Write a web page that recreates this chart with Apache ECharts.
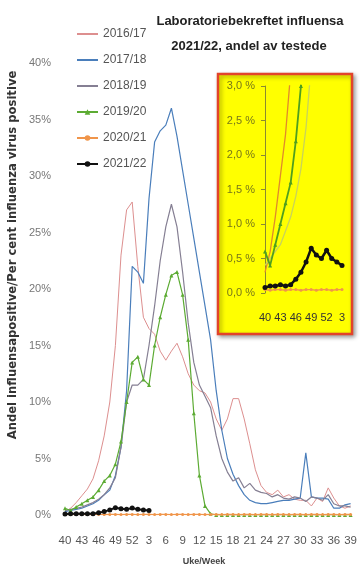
<!DOCTYPE html>
<html>
<head>
<meta charset="utf-8">
<script src="https://cdn.jsdelivr.net/npm/echarts@6/dist/echarts.min.js"></script>
<style>
html,body{margin:0;padding:0;background:#fff;}
#c{width:360px;height:570px;}
</style>
</head>
<body>
<div id="c"></div>
<script>
// Weeks 40..52, 1..39
var weeks = ['40','41','42','43','44','45','46','47','48','49','50','51','52',
  '1','2','3','4','5','6','7','8','9','10','11','12','13','14','15','16','17','18','19','20',
  '21','22','23','24','25','26','27','28','29','30','31','32','33','34','35','36','37','38','39'];
var seasonNames = ['2016/17','2017/18','2018/19','2019/20','2020/21','2021/22'];
var s1617 = [0.3,0.6,1.1,1.7,2.3,3.2,4.8,7.0,10.0,15.0,23.0,27.0,27.7,
  22.0,17.5,16.5,16.0,14.5,13.7,14.5,15.2,14.0,12.5,11.5,11.0,10.8,10.0,8.5,7.5,8.5,10.3,10.3,8.5,
  6.3,4.0,2.6,2.0,1.8,2.2,1.6,1.8,1.4,1.3,1.3,0.8,1.5,1.2,2.4,1.5,0.8,0.6,0.8];
var s1718 = [0.3,0.4,0.5,0.6,0.8,1.0,1.3,1.8,2.2,3.5,6.0,11.0,22.0,
  21.5,20.5,28.0,33.0,34.0,34.5,36.0,33.5,30.5,27.5,24.5,21.5,18.5,15.5,11.0,7.5,5.0,3.6,2.6,1.8,
  1.3,1.1,1.0,1.0,1.1,1.2,1.3,1.3,1.4,1.5,5.5,1.6,1.5,1.5,1.4,0.6,0.6,0.9,1.0];
var s1819 = [0.4,0.5,0.6,0.7,0.9,1.1,1.4,1.8,2.4,3.3,6.0,10.0,11.5,
  11.5,12.0,15.0,18.5,22.5,25.5,27.5,25.5,21.5,17.0,13.5,11.5,10.5,9.5,7.0,5.0,3.8,3.0,3.3,2.4,
  2.8,2.2,2.0,1.9,1.6,1.8,1.5,1.4,1.6,1.5,1.2,1.6,1.5,1.3,1.8,1.0,0.8,0.8,0.7];
var s1920 = [0.6,0.4,0.7,1.0,1.3,1.6,2.2,3.0,3.5,4.5,6.5,10.0,13.5,
  14.0,12.0,11.5,15.0,17.5,19.5,21.2,21.5,19.5,15.5,9.0,3.5,0.8,0.1,0.0,0.0,0.0,0.0,0.0,0.0,
  0.0,0.0,0.0,0.0,0.0,0.0,0.0,0.0,0.0,0.0,0.0,0.0,0.0,0.0,0.0,0.0,0.0,0.0,0.0];
var s2021 = [0.05,0.04,0.05,0.05,0.04,0.05,0.05,0.04,0.05,0.05,0.04,0.05,0.05,
  0.04,0.05,0.05,0.04,0.05,0.05,0.04,0.05,0.05,0.04,0.05,0.05,0.04,0.05,0.05,0.04,0.05,0.05,0.04,0.05,
  0.05,0.04,0.05,0.05,0.04,0.05,0.05,0.04,0.05,0.05,0.04,0.05,0.05,0.04,0.05,0.05,0.04,0.05,0.05];
var s2122 = [0.08,0.1,0.1,0.12,0.1,0.12,0.2,0.3,0.45,0.65,0.55,0.5,0.62,
  0.5,0.45,0.4];
var insetCount = 16; // weeks 40..3 in the inset
var mainTicks = ['0%','5%','10%','15%','20%','25%','30%','35%','40%'];
var insetTicks = ['0,0 %','0,5 %','1,0 %','1,5 %','2,0 %','2,5 %','3,0 %'];

var colors = ['#dd8f8f','#4a7ebb','#857f93','#5cab33','#f0954a','#111111'];
var insetColors = ['#e08a2c', null, '#c9d35a', '#4f9f1f', '#f0954a', '#111111'];
var seriesData = [s1617,s1718,s1819,s1920,s2021,s2122];
var symbols = ['none','none','none','triangle','circle','circle'];
var symSizes = [0,0,0,4,3,5];
var widths = [1,1.2,1.2,1.2,1.2,2];

var series = [];
seriesData.forEach(function(d,k){
  series.push({
    name: seasonNames[k], type:'line', xAxisIndex:0, yAxisIndex:0,
    data: d, symbol: symbols[k], symbolSize: symSizes[k], showSymbol: symbols[k]!=='none',
    showAllSymbol: true,
    lineStyle:{color:colors[k], width:widths[k]}, itemStyle:{color:colors[k]},
    z: 2 + k, animation:false, silent:true
  });
});
seriesData.forEach(function(d,k){
  if (!insetColors[k]) return;
  series.push({
    name: seasonNames[k] + ' ', type:'line', xAxisIndex:1, yAxisIndex:1,
    data: d.slice(0,insetCount), symbol: symbols[k], symbolSize: (k===5?5:symSizes[k]), showSymbol: symbols[k]!=='none',
    showAllSymbol: true,
    lineStyle:{color:insetColors[k], width:(k===5?2.5:(k===3?1.8:1.3))}, itemStyle:{color:insetColors[k]},
    clip:true, z: 12 + k, animation:false, silent:true
  });
});

var legendData = seasonNames.map(function(n,k){
  if (symbols[k]==='none') return {name:n, itemStyle:{color:'rgba(0,0,0,0)', borderWidth:0, opacity:0}};
  return {name:n};
});

var chart = echarts.init(document.getElementById('c'), null, {renderer:'canvas'});
chart.setOption({
  backgroundColor:'#ffffff',
  animation:false,
  legend:{
    data: legendData, orient:'vertical', left:71, top:22,
    itemWidth:21, itemHeight:7, itemGap:12,
    textStyle:{color:'#555', fontSize:12, fontFamily:'Liberation Sans', lineHeight:14}
  },
  grid:[
    {left:65, right:5, top:63, bottom:55},
    {left:265, right:18, top:86, bottom:277}
  ],
  xAxis:[
    {type:'category', gridIndex:0, data:weeks, boundaryGap:false,
     axisLine:{show:false}, axisTick:{show:false},
     axisLabel:{interval:2, color:'#555', fontSize:11.5, margin:20, fontFamily:'Liberation Sans'}},
    {type:'category', gridIndex:1, data:weeks.slice(0,insetCount), boundaryGap:false,
     axisLine:{show:false}, axisTick:{show:false},
     axisLabel:{interval:2, color:'#333', fontSize:11, margin:19, fontFamily:'Liberation Sans'}}
  ],
  yAxis:[
    {type:'value', gridIndex:0, min:0, max:40, interval:5,
     axisLine:{show:false}, axisTick:{show:false}, splitLine:{show:false},
     axisLabel:{color:'#777', fontSize:11, margin:14, fontFamily:'Liberation Sans',
       formatter:function(v){return mainTicks[Math.round(v/5)];}}},
    {type:'value', gridIndex:1, min:0, max:3, interval:0.5,
     axisLine:{show:true, lineStyle:{color:'#8a8a30', width:1}},
     axisTick:{show:true, length:4, lineStyle:{color:'#8a8a30'}}, splitLine:{show:false},
     axisLabel:{color:'#77771a', fontSize:11, margin:10, fontFamily:'Liberation Sans',
       formatter:function(v){return insetTicks[Math.round(v/0.5)];}}}
  ],
  graphic:[
    {type:'rect', z:0, silent:true,
     shape:{x:218, y:74, width:134, height:260},
     style:{fill:'#ffff00', stroke:'#e2432a', lineWidth:2.5,
       shadowBlur:4, shadowColor:'rgba(0,0,0,0.35)', shadowOffsetX:2, shadowOffsetY:2}},
    {type:'text', z:10, silent:true, x:250, y:21,
     style:{text:'Laboratoriebekreftet influensa', align:'center', verticalAlign:'middle',
       font:'bold 13px "Liberation Sans"', fill:'#222'}},
    {type:'text', z:10, silent:true, x:249, y:46,
     style:{text:'2021/22, andel av testede', align:'center', verticalAlign:'middle',
       font:'bold 13px "Liberation Sans"', fill:'#222'}},
    {type:'text', z:10, silent:true, x:13, y:255, rotation:Math.PI/2,
     style:{text:'Andel influensapositive/Per cent influenza virus positive', align:'center', verticalAlign:'middle',
       font:'bold 11.6px "DejaVu Sans"', fill:'#333'}},
    {type:'text', z:10, silent:true, x:204, y:562,
     style:{text:'Uke/Week', align:'center', verticalAlign:'middle',
       font:'bold 9px "Liberation Sans"', fill:'#444'}}
  ],
  series: series
});
</script>
</body>
</html>
